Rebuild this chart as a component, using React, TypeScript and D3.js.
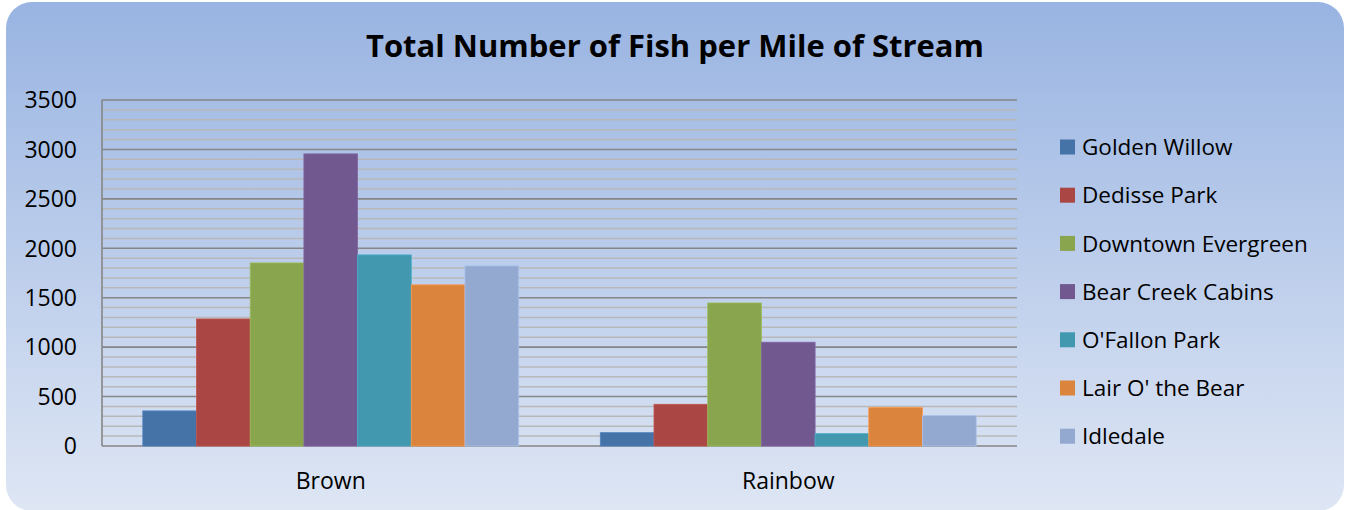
import React from "react";
import * as d3 from "d3";

const W = 1345;
const H = 510;

const categories = ["Brown", "Rainbow"];
const sites = [
  "Golden Willow",
  "Dedisse Park",
  "Downtown Evergreen",
  "Bear Creek Cabins",
  "O'Fallon Park",
  "Lair O' the Bear",
  "Idledale",
];
const brownValues = [355, 1285, 1852, 2955, 1933, 1630, 1822];
const rainbowValues = [135, 422, 1447, 1050, 125, 388, 307];
const colors = ["#4572A7", "#AA4643", "#89A54E", "#71588F", "#4198AF", "#DB843D", "#93A9CF"];
const yTicks = [0, 500, 1000, 1500, 2000, 2500, 3000, 3500];

const FONT = "'Open Sans', 'DejaVu Sans', sans-serif";

const plot = { left: 102, right: 1017, top: 100, bottom: 446 };

export default function App() {
  const valuesByCat: Record<string, number[]> = { Brown: brownValues, Rainbow: rainbowValues };

  const x0 = d3.scaleBand<string>().domain(categories).range([plot.left, plot.right]).padding(0);
  const x1 = d3.scaleBand<string>().domain(sites).range([0, x0.bandwidth()]).paddingInner(0).paddingOuter(0.76);
  const y = d3.scaleLinear().domain([0, 3500]).range([plot.bottom, plot.top]);

  const minor = d3.range(0, 3501, 100).filter(v => v % 500 !== 0);

  return (
    <svg width={W} height={H} style={{ position: "absolute", left: 0, top: 0 }}>
      <defs>
        <linearGradient id="bg" x1="0" y1="0" x2="0" y2="1">
          <stop offset="0%" stopColor="#99B4E2" />
          <stop offset="100%" stopColor="#DEE6F4" />
        </linearGradient>
      </defs>
      <rect x={6} y={2} width={W - 7} height={H - 1} rx={26} fill="url(#bg)" />

      <text x={675} y={57} textAnchor="middle" fontFamily={FONT} fontWeight="bold" fontSize={30}
        textLength={618} lengthAdjust="spacingAndGlyphs" fill="#000">
        Total Number of Fish per Mile of Stream
      </text>

      {/* minor grid */}
      {minor.map(v => (
        <line key={"m" + v} x1={plot.left} x2={plot.right} y1={y(v)} y2={y(v)} stroke="#B8B8B8" strokeWidth={1.5} />
      ))}
      {/* major grid */}
      {yTicks.map(v => (
        <line key={"M" + v} x1={plot.left} x2={plot.right} y1={y(v)} y2={y(v)} stroke="#868686" strokeWidth={1.6} />
      ))}
      <line x1={plot.left} x2={plot.left} y1={plot.top} y2={plot.bottom} stroke="#868686" strokeWidth={1.6} />

      {/* bars */}
      {categories.map(cat => (
        <g key={cat} transform={`translate(${x0(cat)},0)`}>
          {sites.map((s, i) => {
            const v = valuesByCat[cat][i];
            return (
              <rect key={s} x={x1(s)} y={y(v)} width={x1.bandwidth()} height={y(0) - y(v)}
                fill={colors[i]} stroke={d3.color(colors[i])!.brighter(0.4).toString()} strokeWidth={0.8} />
            );
          })}
        </g>
      ))}

      {/* y tick labels */}
      {yTicks.map(v => (
        <text key={"t" + v} x={77} y={y(v)} dy="0.36em" textAnchor="end" fontFamily={FONT} fontSize={23} fill="#000">
          {v}
        </text>
      ))}

      {/* category labels */}
      {categories.map(cat => (
        <text key={"c" + cat} x={x0(cat)! + x0.bandwidth() / 2} y={489} textAnchor="middle" fontFamily={FONT} fontSize={23} fill="#000">
          {cat}
        </text>
      ))}

      {/* legend */}
      {sites.map((s, i) => {
        const cy = 147 + i * 48.2;
        return (
          <g key={"l" + s}>
            <rect x={1060} y={cy - 7.5} width={15} height={15} fill={colors[i]} />
            <text x={1082} y={cy} dy="0.36em" fontFamily={FONT} fontSize={22.5} fill="#000">{s}</text>
          </g>
        );
      })}
    </svg>
  );
}
